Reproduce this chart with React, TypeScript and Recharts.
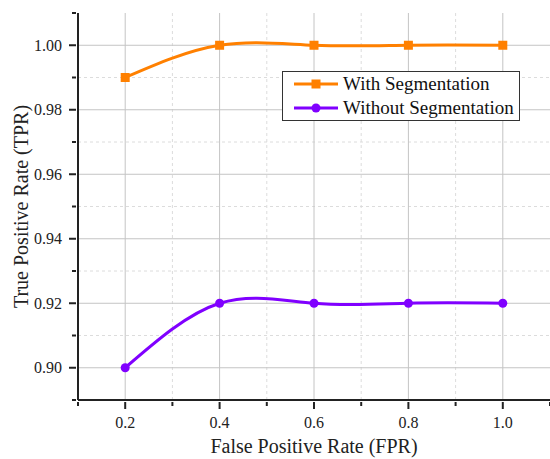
import React from "react";
import {
  LineChart,
  Line,
  XAxis,
  YAxis,
  ReferenceLine,
  Legend,
} from "recharts";

const FPR = [0.2, 0.4, 0.6, 0.8, 1.0];
const WITH_SEG = [0.99, 1.0, 1.0, 1.0, 1.0];
const WITHOUT_SEG = [0.9, 0.92, 0.92, 0.92, 0.92];

const X_TICKS = [0.1, 0.2, 0.3, 0.4, 0.5, 0.6, 0.7, 0.8, 0.9, 1.0, 1.1];
const X_MAJOR = [0.2, 0.4, 0.6, 0.8, 1.0];
const X_MINOR = [0.3, 0.5, 0.7, 0.9];
const Y_TICKS = [0.89, 0.9, 0.91, 0.92, 0.93, 0.94, 0.95, 0.96, 0.97, 0.98, 0.99, 1.0, 1.01];
const Y_MAJOR = [0.9, 0.92, 0.94, 0.96, 0.98, 1.0];
const Y_MINOR = [0.91, 0.93, 0.95, 0.97, 0.99];

const data = FPR.map((f, i) => ({ fpr: f, w: WITH_SEG[i], wo: WITHOUT_SEG[i] }));

const FONT = "'Liberation Serif', 'Times New Roman', serif";
const ORANGE = "#ff8000";
const PURPLE = "#8000ff";
const INK = "#222";

const isMajor = (v: number, list: number[]) => list.some((m) => Math.abs(m - v) < 1e-6);

// x ticks: long tick + label on majors, short tick on minors
function XTick(props: any) {
  const { x, y, payload } = props;
  const major = isMajor(payload.value, X_MAJOR);
  return (
    <g>
      <line x1={x} y1={y} x2={x} y2={y + (major ? 7 : 4)} stroke={INK} strokeWidth={2} />
      {major && (
        <text x={x} y={y + 26} textAnchor="middle" fontSize={16} fontFamily={FONT} fill={INK}>
          {payload.value.toFixed(1)}
        </text>
      )}
    </g>
  );
}

function YTick(props: any) {
  const { x, y, payload } = props;
  const major = isMajor(payload.value, Y_MAJOR);
  return (
    <g>
      <line x1={x} y1={y} x2={x - (major ? 7 : 4)} y2={y} stroke={INK} strokeWidth={2} />
      {major && (
        <text x={x - 14} y={y} dy="0.35em" textAnchor="end" fontSize={16} fontFamily={FONT} fill={INK}>
          {payload.value.toFixed(2)}
        </text>
      )}
    </g>
  );
}

function YLabel(props: any) {
  const { viewBox } = props;
  const cx = 28;
  const cy = viewBox.y + viewBox.height / 2;
  return (
    <text
      x={cx}
      y={cy}
      transform={`rotate(-90, ${cx}, ${cy})`}
      textAnchor="middle"
      fontSize={20}
      fontFamily={FONT}
      fill={INK}
    >
      True Positive Rate (TPR)
    </text>
  );
}

function SquareDot(props: any) {
  const { cx, cy, index } = props;
  return <rect key={`sq-${index}`} x={cx - 4.5} y={cy - 4.5} width={9} height={9} fill={ORANGE} />;
}

function LegendBox(props: any) {
  const { payload } = props;
  return (
    <div
      style={{
        border: "1px solid #333",
        background: "#fff",
        padding: "0 2px 0 10px",
        fontFamily: FONT,
        fontSize: 19,
        color: "#111",
        lineHeight: "24px",
        whiteSpace: "nowrap",
        boxSizing: "border-box",
        width: 238,
      }}
    >
      {(payload || []).map((p: any) => (
        <div key={p.value} style={{ display: "flex", alignItems: "center", height: 24 }}>
          <svg width={46} height={14} style={{ marginRight: 4, flexShrink: 0 }}>
            <line x1={1} y1={7} x2={45} y2={7} stroke={p.color} strokeWidth={3} />
            {p.dataKey === "w" ? (
              <rect x={18.5} y={2.5} width={9} height={9} fill={p.color} />
            ) : (
              <circle cx={23} cy={7} r={4.5} fill={p.color} />
            )}
          </svg>
          <span>{p.value}</span>
        </div>
      ))}
    </div>
  );
}

export default function App() {
  return (
    <div style={{ position: "absolute", left: 0, top: 0, background: "#fff" }}>
      <LineChart width={550} height={459} data={data} margin={{ top: 13, right: 0, bottom: 0, left: 0 }}>
        {X_MINOR.map((v) => (
          <ReferenceLine key={`xm${v}`} x={v} stroke="#dcdcdc" strokeDasharray="3 3" />
        ))}
        {Y_MINOR.map((v) => (
          <ReferenceLine key={`ym${v}`} y={v} stroke="#dcdcdc" strokeDasharray="3 3" />
        ))}
        {X_MAJOR.map((v) => (
          <ReferenceLine key={`xM${v}`} x={v} stroke="#c4c4c4" />
        ))}
        {Y_MAJOR.map((v) => (
          <ReferenceLine key={`yM${v}`} y={v} stroke="#c4c4c4" />
        ))}
        <XAxis
          dataKey="fpr"
          type="number"
          domain={[0.1, 1.1]}
          ticks={X_TICKS}
          interval={0}
          tickSize={0}
          tickLine={false}
          axisLine={{ stroke: INK, strokeWidth: 2 }}
          tick={<XTick />}
          height={59}
          allowDataOverflow
          label={{
            value: "False Positive Rate (FPR)",
            position: "insideBottom",
            offset: 6,
            fontSize: 20,
            fontFamily: FONT,
            fill: INK,
          }}
        />
        <YAxis
          type="number"
          domain={[0.89, 1.01]}
          ticks={Y_TICKS}
          interval={0}
          tickSize={0}
          tickLine={false}
          axisLine={{ stroke: INK, strokeWidth: 2 }}
          tick={<YTick />}
          width={78}
          allowDataOverflow
          label={<YLabel />}
        />
        <Legend
          layout="vertical"
          align="center"
          verticalAlign="middle"
          content={<LegendBox />}
          wrapperStyle={{ left: 282, top: 71, width: 238 }}
        />
        <Line
          type="natural"
          dataKey="w"
          name="With Segmentation"
          stroke={ORANGE}
          strokeWidth={3}
          dot={<SquareDot />}
          activeDot={false}
          isAnimationActive={false}
        />
        <Line
          type="natural"
          dataKey="wo"
          name="Without Segmentation"
          stroke={PURPLE}
          strokeWidth={3}
          dot={{ r: 4.5, fill: PURPLE, stroke: PURPLE, strokeWidth: 0 }}
          activeDot={false}
          isAnimationActive={false}
        />
      </LineChart>
    </div>
  );
}
